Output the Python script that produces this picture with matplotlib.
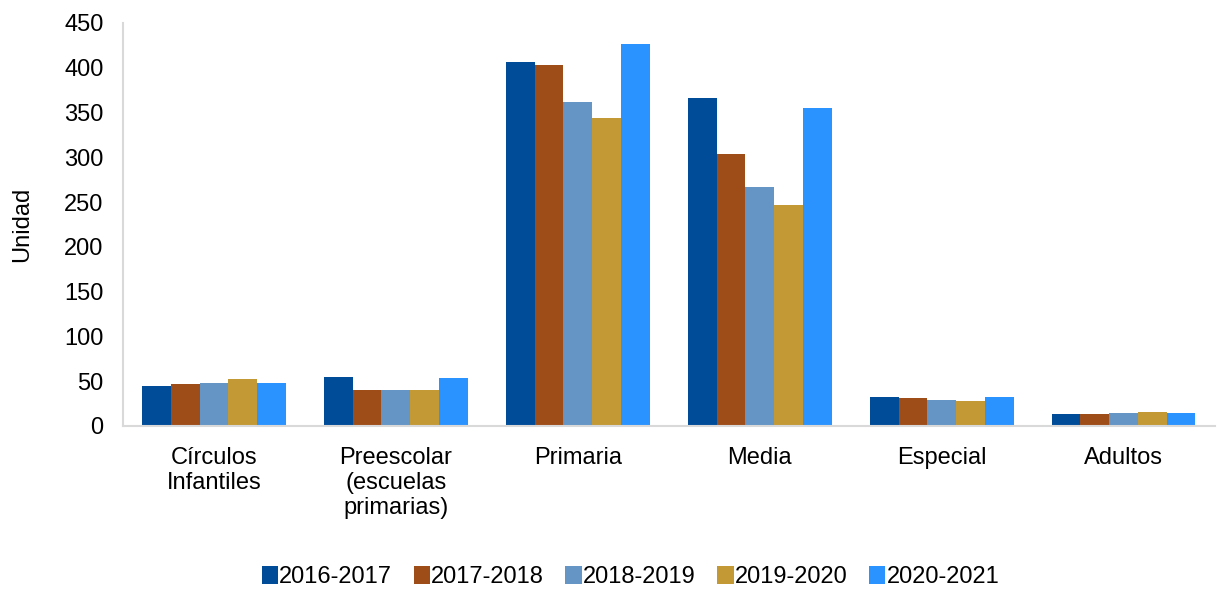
import numpy as np
import matplotlib.pyplot as plt

plt.rcParams['font.family'] = ['Liberation Sans', 'DejaVu Sans']

categories = ['Círculos\nInfantiles', 'Preescolar\n(escuelas\nprimarias)', 'Primaria',
              'Media', 'Especial', 'Adultos']
series = ['2016-2017', '2017-2018', '2018-2019', '2019-2020', '2020-2021']
values = {
    '2016-2017': [45, 55, 406, 366, 32, 13],
    '2017-2018': [47, 40, 403, 304, 31, 13],
    '2018-2019': [48, 40, 362, 267, 29, 14],
    '2019-2020': [52, 40, 344, 247, 28, 15],
    '2020-2021': [48, 54, 427, 355, 32, 14],
}
colors = ['#004C99', '#9E4D19', '#6495C5', '#C39935', '#2B93FF']

fig = plt.figure(figsize=(12.17, 5.89), dpi=100)
ax = fig.add_axes([0.101, 0.277, 0.897, 0.684])

x = np.arange(len(categories))
w = 0.158
for i, s in enumerate(series):
    ax.bar(x + (i - 2) * w, values[s], width=w, color=colors[i], label=s, zorder=2)

ax.set_xlim(-0.5, len(categories) - 0.5)
ax.set_ylim(0, 450)
ax.set_yticks(range(0, 451, 50))
ax.set_xticks(x)
ax.set_xticklabels(categories, fontsize=17, va='top', linespacing=1.2)
ax.tick_params(axis='both', length=0, labelsize=17)
ax.tick_params(axis='x', pad=15)
ax.tick_params(axis='y', pad=14)
ax.set_ylabel('Unidad', fontsize=17, labelpad=22)

for side in ['top', 'right']:
    ax.spines[side].set_visible(False)
for side in ['left', 'bottom']:
    ax.spines[side].set_color('#D9D9D9')
    ax.spines[side].set_linewidth(1.5)

fig.legend(loc='lower center', bbox_to_anchor=(0.518, -0.035), ncol=5, frameon=False,
           fontsize=17, handlelength=0.7, handleheight=0.8, handletextpad=0.05,
           columnspacing=0.9)

fig.savefig('out.png', dpi=100)
